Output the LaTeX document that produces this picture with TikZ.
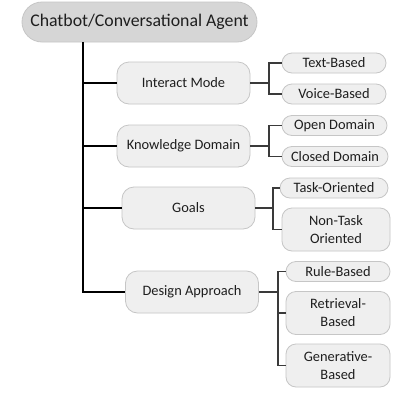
\documentclass[tikz,border=0pt]{standalone}
\usepackage{fontspec}
\setmainfont{Carlito}
\definecolor{rootfill}{HTML}{D6D6D6}
\definecolor{boxfill}{HTML}{EFEFEF}
\definecolor{boxline}{HTML}{C6C6C6}
\definecolor{linkc}{HTML}{3A3A3A}
\definecolor{txt}{HTML}{1E1E1E}
\begin{document}
\begin{tikzpicture}[x=1pt,y=-1pt,
  rootbox/.style={draw=boxline,fill=rootfill,rounded corners=20pt,line width=0.8pt,text=txt,
    minimum width=235pt,minimum height=40pt,inner sep=0pt,font=\fontsize{17.8}{20}\selectfont},
  midbox/.style={draw=boxline,fill=boxfill,rounded corners=12pt,line width=0.8pt,text=txt,
    minimum width=133pt,minimum height=42pt,inner sep=0pt,font=\fontsize{14.4}{17}\selectfont},
  leafbox/.style={draw=boxline,fill=boxfill,rounded corners=10pt,line width=0.8pt,text=txt,
    minimum width=104pt,minimum height=20pt,inner sep=0pt,align=center,
    font=\fontsize{14.4}{18}\selectfont},
  tallleaf/.style={leafbox,minimum height=43pt},
  trunk/.style={line width=2.6pt,black},
  link/.style={line width=1.8pt,linkc}]
\useasboundingbox (0,0) rectangle (410,410);
\fill[white] (0,0) rectangle (410,410);
% nodes
\node[rootbox] (root) at (139.5,22) {Chatbot/Conversational Agent};
\node[midbox] (im) at (183.5,83) {Interact Mode};
\node[midbox] (kd) at (183.5,146) {Knowledge Domain};
\node[midbox] (go) at (188.5,208) {Goals};
\node[midbox] (da) at (192,292) {Design Approach};
\node[leafbox] (tb) at (334,63) {Text-Based};
\node[leafbox] (vb) at (334,94) {Voice-Based};
\node[leafbox,minimum width=105pt] (od) at (334.5,125.5) {Open Domain};
\node[leafbox,minimum width=106pt] (cd) at (335,156.5) {Closed Domain};
\node[leafbox,minimum width=108pt] (to) at (334,188) {Task-Oriented};
\node[tallleaf,minimum width=108pt] (nt) at (336,229.5) {Non-Task\\Oriented};
\node[leafbox] (rb) at (338,271.5) {Rule-Based};
\node[tallleaf] (rt) at (338,313) {Retrieval-\\Based};
\node[tallleaf] (gb) at (338,365.5) {Generative-\\Based};
% helper coordinates
\coordinate (tx) at (83,0);
\coordinate (b1) at (269,0);
\coordinate (b2) at (269,0);
\coordinate (b3) at (273,0);
\coordinate (b4) at (278,0);
% trunk
\draw[trunk] (tx |- root.south) -- (tx |- da.west) -- (da.west);
\draw[trunk] (tx |- im.west) -- (im.west);
\draw[trunk] (tx |- kd.west) -- (kd.west);
\draw[trunk] (tx |- go.west) -- (go.west);
% brackets
\draw[link] (im.east) -- (b1 |- im.east);
\draw[link] (tb.west) -- (b1 |- tb.west) -- (b1 |- vb.west) -- (vb.west);
\draw[link] (kd.east) -- (b2 |- kd.east);
\draw[link] (od.west) -- (b2 |- od.west) -- (b2 |- cd.west) -- (cd.west);
\draw[link] (go.east) -- (b3 |- go.east);
\draw[link] (to.west) -- (b3 |- to.west) -- (b3 |- nt.west) -- (nt.west);
\draw[link] (da.east) -- (b4 |- da.east);
\draw[link] (rb.west) -- (b4 |- rb.west) -- (b4 |- gb.west) -- (gb.west);
\draw[link] (b4 |- rt.west) -- (rt.west);
\end{tikzpicture}
\end{document}
